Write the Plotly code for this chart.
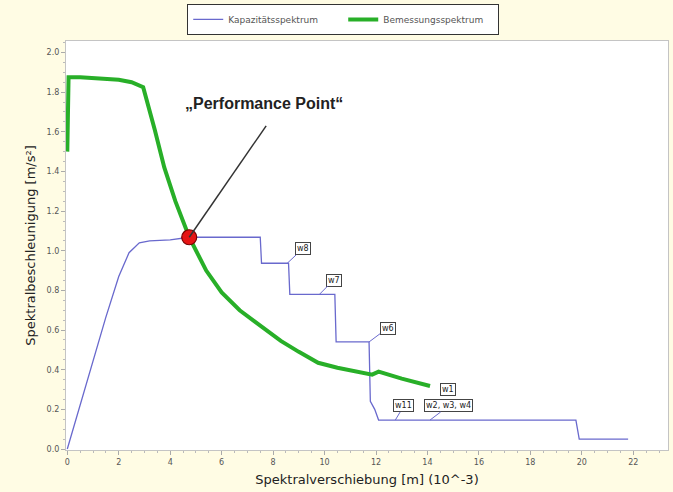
import plotly.graph_objects as go

# Capacity spectrum (Kapazitätsspektrum): displacement in 10^-3 m, acceleration in m/s²
cap_x = [0.0, 0.5, 1.0, 1.5, 2.0, 2.4, 2.8, 3.2, 4.0, 4.74, 7.5, 7.55, 8.6, 8.65, 9.8, 10.4,
         10.45, 11.73, 11.78, 11.95, 12.1, 19.77, 19.9, 21.8]
cap_y = [0.0, 0.225, 0.445, 0.665, 0.87, 0.99, 1.04, 1.05, 1.055, 1.068, 1.068, 0.937, 0.937,
         0.78, 0.78, 0.78, 0.54, 0.54, 0.24, 0.2, 0.146, 0.146, 0.05, 0.05]

# Design spectrum (Bemessungsspektrum)
dem_x = [0.0, 0.05, 0.5, 1.0, 1.5, 2.0, 2.5, 2.95, 3.4, 3.77, 4.2, 4.74, 5.4, 6.0, 6.7, 7.5,
         8.3, 9.0, 9.75, 10.5, 11.2, 11.75, 11.85, 12.1, 13.0, 14.1]
dem_y = [1.5, 1.875, 1.875, 1.872, 1.868, 1.862, 1.85, 1.825, 1.61, 1.42, 1.25, 1.068, 0.90,
         0.79, 0.70, 0.62, 0.545, 0.49, 0.435, 0.41, 0.39, 0.373, 0.375, 0.39, 0.355, 0.318]

# Performance point (intersection of both spectra)
pp_x, pp_y = 4.74, 1.068
pp_label = "„Performance Point\u201c"
pp_label_pos = (7.65, 1.745)
pp_leader_end = (7.73, 1.63)

# Step labels on the capacity curve: (text, anchor x, anchor y, label x, label y, leader)
step_labels = [
    ("w8", 8.55, 0.937, 9.15, 1.01, True),
    ("w7", 9.8, 0.78, 10.35, 0.852, True),
    ("w6", 11.73, 0.54, 12.45, 0.61, True),
    ("w1", 14.8, 0.30, 14.8, 0.30, False),
    ("w11", 12.75, 0.146, 13.08, 0.217, True),
    ("w2, w3, w4", 14.1, 0.146, 14.82, 0.217, True),
]

x_ticks = list(range(0, 23, 2))
y_ticks = [0.0, 0.2, 0.4, 0.6, 0.8, 1.0, 1.2, 1.4, 1.6, 1.8, 2.0]

BLUE = "rgb(105,105,205)"
GREEN = "rgb(40,175,40)"
FONT = "DejaVu Sans"
LABEL_FONT = dict(family=FONT, size=8, color="#222222")

fig = go.Figure()
fig.add_trace(go.Scatter(x=cap_x, y=cap_y, mode="lines", name="Kapazitätsspektrum",
                         line=dict(color=BLUE, width=1.3)))
fig.add_trace(go.Scatter(x=dem_x, y=dem_y, mode="lines", name="Bemessungsspektrum",
                         line=dict(color=GREEN, width=4)))

# leader line from the performance point to its caption
fig.add_shape(type="line", x0=pp_x, y0=pp_y, x1=pp_leader_end[0], y1=pp_leader_end[1],
              xref="x", yref="y", line=dict(color="#333333", width=1.5))
fig.add_trace(go.Scatter(x=[pp_x], y=[pp_y], mode="markers", showlegend=False,
                         marker=dict(size=15, color="rgb(230,20,20)",
                                     line=dict(color="rgb(120,0,0)", width=1.2))))

fig.add_annotation(x=pp_label_pos[0], y=pp_label_pos[1], xref="x", yref="y",
                   text="<b>" + pp_label + "</b>", showarrow=False,
                   font=dict(family="Liberation Sans", size=16, color="#222222"))

for txt, px, py, lx, ly, leader in step_labels:
    box = dict(text=txt, font=LABEL_FONT, bgcolor="white", bordercolor="#444444",
               borderwidth=1, borderpad=1, xref="x", yref="y")
    if leader:
        fig.add_annotation(x=px, y=py, ax=lx, ay=ly, axref="x", ayref="y",
                           showarrow=True, arrowhead=0, arrowwidth=1, arrowcolor=BLUE, **box)
    else:
        fig.add_annotation(x=lx, y=ly, showarrow=False, **box)

axis_common = dict(
    showgrid=False, zeroline=False, showline=True, linecolor="#c4c4c4", linewidth=1.2,
    mirror=True, ticks="outside", ticklen=4, tickcolor="#aaaaaa",
    tickfont=dict(family=FONT, size=8, color="#555555"),
    minor=dict(ticks="outside", ticklen=2, tickcolor="#bbbbbb"),
)

fig.update_xaxes(range=[-0.05, 23.35], tickvals=x_ticks, ticktext=[str(v) for v in x_ticks],
                 minor_dtick=0.5,
                 title=dict(text="Spektralverschiebung [m] (10^-3)", standoff=9,
                            font=dict(family=FONT, size=13, color="#222222")),
                 **axis_common)
fig.update_yaxes(range=[-0.005, 2.058], tickvals=y_ticks, ticktext=[f"{v:.1f}" for v in y_ticks],
                 minor_dtick=0.05,
                 title=dict(text="Spektralbeschleunigung [m/s²]", standoff=8,
                            font=dict(family=FONT, size=13, color="#222222")),
                 **axis_common)

fig.update_layout(
    width=673, height=492,
    margin=dict(l=66, r=5, t=41, b=42, autoexpand=False),
    paper_bgcolor="rgb(255,252,228)",
    plot_bgcolor="white",
    legend=dict(orientation="h", xref="container", x=0.51, xanchor="center",
                yref="container", y=0.992, yanchor="top",
                bgcolor="white", bordercolor="#333333", borderwidth=1,
                font=dict(family=FONT, size=9, color="#555555"),
                itemwidth=30, entrywidth=110, tracegroupgap=0),
    showlegend=True,
)

fig.write_html("out.html")
